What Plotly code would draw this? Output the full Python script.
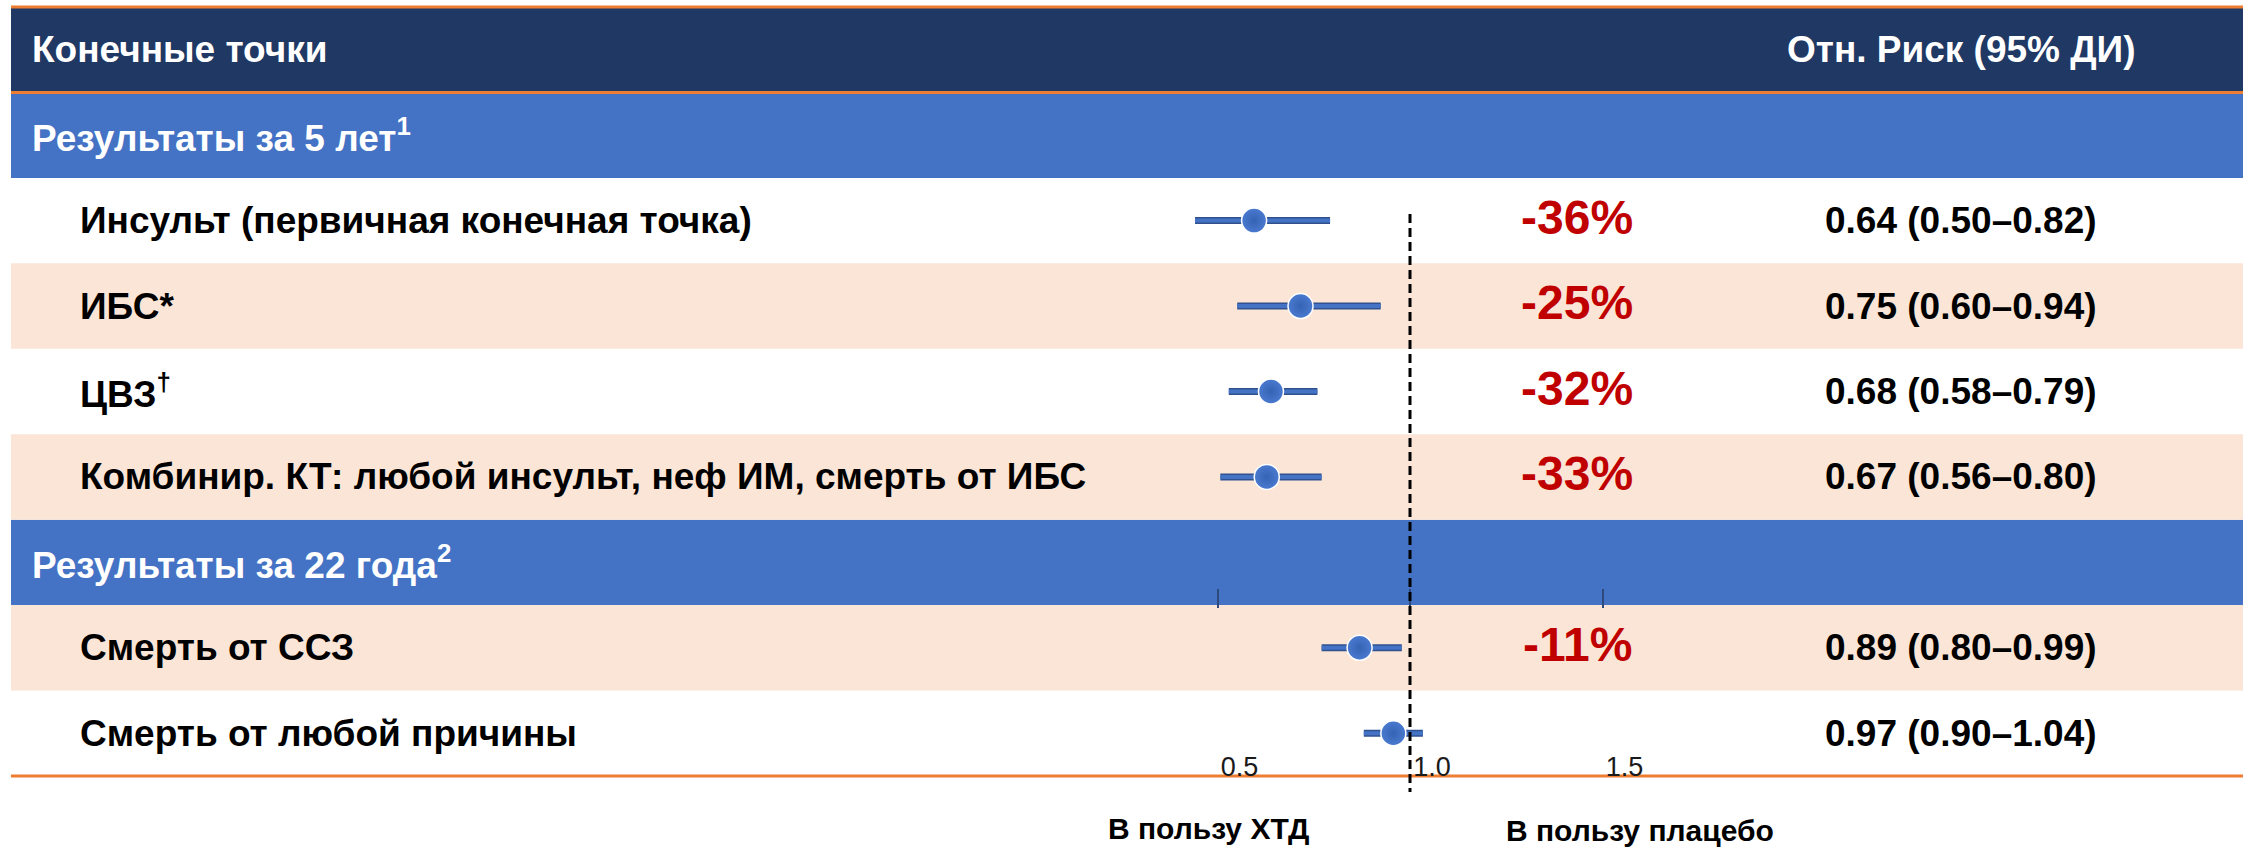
import plotly.graph_objects as go

# ---------------- data ----------------
endpoints = [
    "Инсульт (первичная конечная точка)",
    "ИБС*",
    "ЦВЗ<sup>†</sup>",
    "Комбинир. КТ: любой инсульт, неф ИМ, смерть от ИБС",
    "Смерть от ССЗ",
    "Смерть от любой причины",
]
hazard_ratio = [0.64, 0.75, 0.68, 0.67, 0.89, 0.97]
ci_low = [0.50, 0.60, 0.58, 0.56, 0.80, 0.90]
ci_high = [0.82, 0.94, 0.79, 0.80, 0.99, 1.04]
risk_change = ["-36%", "-25%", "-32%", "-33%", "-11%", ""]
endpoint_row = [2, 3, 4, 5, 7, 8]          # table row of each endpoint

section_titles = ["Результаты за 5 лет<sup>1</sup>", "Результаты за 22 года<sup>2</sup>"]
section_row = [1, 6]
header_left = "Конечные точки"
header_right = "Отн. Риск (95% ДИ)"
tick_values = [0.5, 1.0, 1.5]
tick_labels = ["0.5", "1.0", "1.5"]
favour_labels = ["В пользу ХТД", "В пользу плацебо"]
shaded_rows = [3, 5, 7]

hr_text = [f"{h:.2f} ({l:.2f}–{u:.2f})" for h, l, u in zip(hazard_ratio, ci_low, ci_high)]

# ---------------- style / layout constants ----------------
W, H = 2249, 847
FONT = "Liberation Sans, Arial, sans-serif"
NAVY = "#203864"
BLUE = "#4472C4"
PEACH = "#FBE5D6"
ORANGE = "#ED7D31"
RED = "#C00000"
X_LEFT, X_RIGHT = 11 / W, 2243 / W

fig = go.Figure()

# confidence intervals (outline + fill)
xs, ys = [], []
for lo, hi, r in zip(ci_low, ci_high, endpoint_row):
    xs += [lo, hi, None]
    ys += [r, r, None]
fig.add_trace(go.Scatter(x=xs, y=ys, mode="lines", line=dict(color="#2F528F", width=7),
                         hoverinfo="skip", showlegend=False))
fig.add_trace(go.Scatter(x=xs, y=ys, mode="lines", line=dict(color=BLUE, width=4),
                         hoverinfo="skip", showlegend=False))
# point estimates
fig.add_trace(go.Scatter(
    x=hazard_ratio, y=endpoint_row, mode="markers",
    marker=dict(size=25, color="#4A7AD0", line=dict(color="white", width=1.5),
                gradient=dict(type="radial", color="#3563B3")),
    showlegend=False, hovertext=endpoints, hoverinfo="text"))
# invisible trace that carries the reference axis
fig.add_trace(go.Scatter(x=tick_values, y=[8, 8, 8], xaxis="x2", mode="markers",
                         marker=dict(opacity=0), hoverinfo="skip", showlegend=False))

shapes = []
# header band
shapes.append(dict(type="rect", xref="paper", yref="y", x0=X_LEFT, x1=X_RIGHT, y0=-0.5, y1=0.5,
                   fillcolor=NAVY, line=dict(width=0), layer="below"))
for r in section_row:
    shapes.append(dict(type="rect", xref="paper", yref="y", x0=X_LEFT, x1=X_RIGHT,
                       y0=r - 0.5, y1=r + 0.5, fillcolor=BLUE, line=dict(width=0), layer="below"))
for r in shaded_rows:
    shapes.append(dict(type="rect", xref="paper", yref="y", x0=X_LEFT, x1=X_RIGHT,
                       y0=r - 0.5, y1=r + 0.5, fillcolor=PEACH, line=dict(width=0), layer="below"))
for yy in (-0.5, 0.5, 8.5):
    shapes.append(dict(type="line", xref="paper", yref="y", x0=X_LEFT, x1=X_RIGHT, y0=yy, y1=yy,
                       line=dict(color=ORANGE, width=3), layer="below"))
# line of no effect
shapes.append(dict(type="line", xref="x2", yref="paper", x0=1.0, x1=1.0,
                   y0=1 - 214 / H, y1=1 - 792 / H,
                   line=dict(color="black", width=3, dash="9px,5px"), layer="above"))

ann = []
def text(x, y, s, size=37, color="black", anchor="left", yref="y", bold=True):
    ann.append(dict(x=x, y=y, xref="paper", yref=yref, text=s, showarrow=False,
                    xanchor=anchor, yanchor="middle",
                    font=dict(family=FONT, size=size, color=color,
                              weight="bold" if bold else "normal")))

text(30 / W, 0, header_left, color="white")
text(1961 / W, 0, header_right, color="white", anchor="center")
for s, r in zip(section_titles, section_row):
    text(30 / W, r, s, color="white")
for lab, r in zip(endpoints, endpoint_row):
    text(78 / W, r, lab)
for pc, r in zip(risk_change, endpoint_row):
    if pc:
        text(1577 / W, r - 0.04, pc, size=48, color=RED, anchor="center")
for t, r in zip(hr_text, endpoint_row):
    text(1961 / W, r, t, anchor="center")
text(1208 / W, 1 - 828 / H, favour_labels[0], size=30, anchor="center", yref="paper")
text(1640 / W, 1 - 830 / H, favour_labels[1], size=30, anchor="center", yref="paper")

fig.update_layout(
    width=W, height=H, margin=dict(l=0, r=0, t=0, b=0),
    paper_bgcolor="white", plot_bgcolor="rgba(0,0,0,0)",
    xaxis=dict(range=[-2.3318, 2.9976], visible=False, domain=[0, 1]),
    xaxis2=dict(overlaying="x", range=[-2.6623, 3.1792], anchor="free",
                position=1 - 608 / H, side="bottom",
                tickmode="array", tickvals=tick_values, ticktext=tick_labels,
                ticks="inside", ticklen=19, tickwidth=2, tickcolor="#2E4A7D",
                showline=False, showgrid=False, zeroline=False,
                tickfont=dict(family=FONT, size=27, color="#1a1a1a"),
                ticklabelstandoff=140, ticklabelshift=22),
    yaxis=dict(range=[9.3315, -0.5819], visible=False, domain=[0, 1]),
    shapes=shapes, annotations=ann, showlegend=False,
)

fig.write_html("out.html")
